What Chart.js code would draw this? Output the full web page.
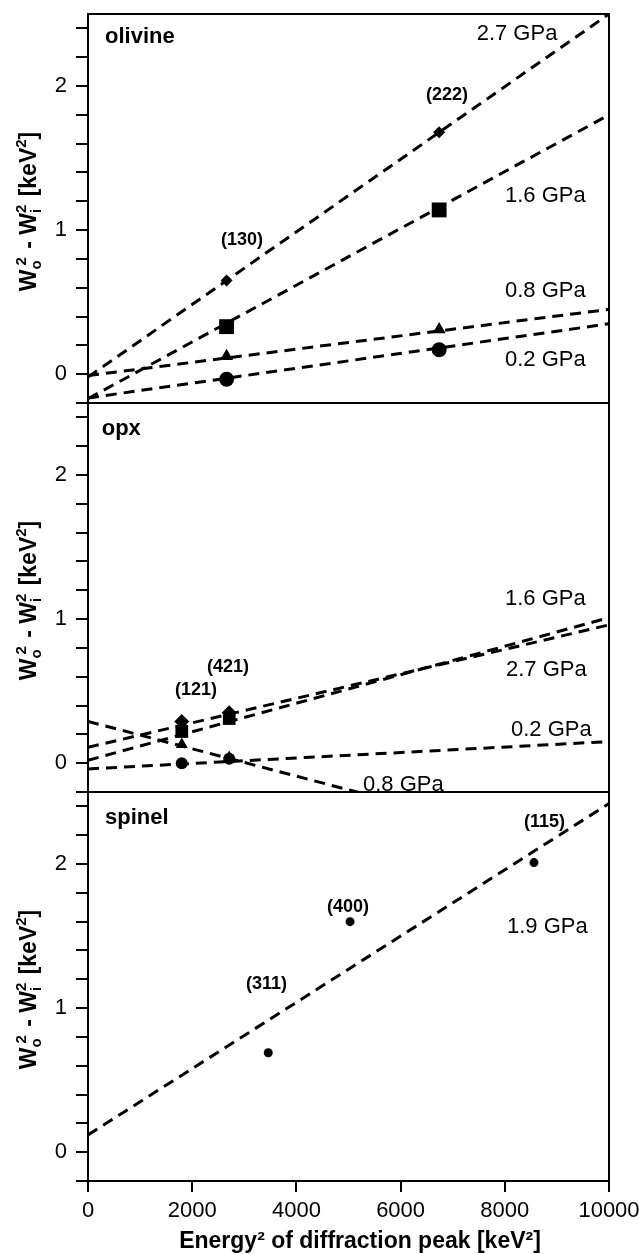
<!DOCTYPE html>
<html>
<head>
<meta charset="utf-8">
<script src="https://cdn.jsdelivr.net/npm/chart.js@4.4.1/dist/chart.umd.min.js"></script>
<style>
  body { margin: 0; background: #fff; }
  #wrap { position: relative; width: 639px; height: 1254px; background: #fff; overflow: hidden; }
  canvas { position: absolute; left: 0; }
</style>
</head>
<body>
<div id="wrap">
  <canvas id="c1" width="639" height="420" style="top:0px"></canvas>
  <canvas id="c2" width="639" height="420" style="top:389px"></canvas>
  <canvas id="c3" width="639" height="476" style="top:778px"></canvas>
</div>
<script>
const FAM = '"Liberation Sans", Arial, Helvetica, sans-serif';

// axes
const xTicks = [0, 2000, 4000, 6000, 8000, 10000];
const yTicks = [-0.2, 0, 0.2, 0.4, 0.6, 0.8, 1, 1.2, 1.4, 1.6, 1.8, 2, 2.2, 2.4];
const fitX = [0, 10000];
const pressures = ['2.7 GPa', '1.6 GPa', '0.8 GPa', '0.2 GPa'];

// olivine
const olX = [2660, 6740];
const ol27 = [0.65, 1.68];
const ol16 = [0.33, 1.14];
const ol08 = [0.125, 0.31];
const ol02 = [-0.035, 0.17];
const olFit27 = [-0.02, 2.5];
const olFit16 = [-0.17, 1.8];
const olFit08 = [-0.01, 0.45];
const olFit02 = [-0.165, 0.35];
const olPeaks = ['(130)', '(222)'];

// opx
const opxX = [1800, 2710];
const opx27 = [0.29, 0.35];
const opx16 = [0.22, 0.31];
const opx08 = [0.13, 0.04];
const opx02 = [0.0, 0.03];
const opxFit27 = [0.11, 0.96];
const opxFit16 = [0.02, 1.01];
const opxFit08 = [0.29, -0.66];
const opxFit02 = [-0.04, 0.15];
const opxPeaks = ['(121)', '(421)'];

// spinel
const spX = [3460, 5030, 8560];
const spY = [0.69, 1.6, 2.01];
const spFit = [0.12, 2.42];
const spPeaks = ['(311)', '(400)', '(115)'];
const spPressure = '1.9 GPa';

function pts(xs, ys) {
  return xs.map((x, i) => ({ x: x, y: ys[i] }));
}

function fitLine(ys) {
  return {
    data: pts(fitX, ys), showLine: true, borderColor: '#000', borderWidth: 3,
    borderDash: [11, 7], pointRadius: 0, fill: false
  };
}

function marks(xs, ys, style, r) {
  return {
    data: pts(xs, ys), showLine: false, pointStyle: style, pointRadius: r,
    pointBackgroundColor: '#000', pointBorderColor: '#000', pointBorderWidth: 0
  };
}

// y title with sub/superscripts
function drawYTitle(ctx, cx, cy) {
  const big = 'bold 23px ' + FAM, small = 'bold 15px ' + FAM;
  const parts = [
    { t: 'W', f: big, dy: 0 },
    { t: 'o', f: small, dy: 5, stack: 4 },
    { t: '2', f: small, dy: -10 },
    { t: ' - W', f: big, dy: 0 },
    { t: 'i', f: small, dy: 5, stack: 0 },
    { t: '2', f: small, dy: -10 },
    { t: ' [keV', f: big, dy: 0 },
    { t: '2', f: small, dy: -10 },
    { t: ']', f: big, dy: 0 }
  ];
  ctx.save();
  let total = 0;
  const xs = [];
  for (let i = 0; i < parts.length; i++) {
    ctx.font = parts[i].f;
    const w = ctx.measureText(parts[i].t).width;
    xs.push(total);
    if (parts[i].stack !== undefined) {
      const sx = total + parts[i].stack;
      ctx.font = parts[i + 1].f;
      const w2 = ctx.measureText(parts[i + 1].t).width;
      xs.push(sx);
      total = Math.max(total + w, sx + w2) + 2;
      i++;
    } else {
      total += w;
    }
  }
  ctx.translate(cx, cy);
  ctx.rotate(-Math.PI / 2);
  ctx.fillStyle = '#000';
  ctx.textBaseline = 'alphabetic';
  ctx.textAlign = 'left';
  parts.forEach((p, i) => {
    ctx.font = p.f;
    ctx.fillText(p.t, xs[i] - total / 2, 8 + p.dy);
  });
  ctx.restore();
}

function makePanel(id, opts) {
  const panelPlugin = {
    id: 'panel_' + id,
    afterDraw(chart) {
      const ctx = chart.ctx;
      const a = chart.chartArea;
      const xs = chart.scales.x, ys = chart.scales.y;
      ctx.save();
      ctx.strokeStyle = '#000';
      ctx.lineWidth = 2;
      ctx.strokeRect(a.left, a.top, a.right - a.left, a.bottom - a.top);
      ctx.fillStyle = '#000';
      ctx.textBaseline = 'middle';
      ctx.textAlign = 'left';
      opts.notes.forEach(n => {
        ctx.font = n.font + ' ' + FAM;
        ctx.fillText(n.t, xs.getPixelForValue(n.x), ys.getPixelForValue(n.y));
      });
      ctx.restore();
      drawYTitle(ctx, 28, (a.top + a.bottom) / 2 + 3);
      if (opts.xTitle) {
        ctx.save();
        ctx.font = 'bold 23px ' + FAM;
        ctx.fillStyle = '#000';
        ctx.textAlign = 'center';
        ctx.textBaseline = 'middle';
        ctx.fillText(opts.xTitle, 360, chart.height - 12);
        ctx.restore();
      }
    }
  };

  return new Chart(document.getElementById(id), {
    type: 'scatter',
    data: { datasets: opts.datasets },
    options: {
      responsive: false,
      animation: false,
      devicePixelRatio: 1,
      layout: { padding: { top: opts.padTop, bottom: opts.padBottom, left: 0, right: 30 } },
      plugins: { legend: { display: false }, tooltip: { enabled: false } },
      scales: {
        x: {
          type: 'linear', min: 0, max: 10000, display: opts.showX,
          afterBuildTicks: s => { s.ticks = xTicks.map(v => ({ value: v })); },
          afterFit: s => {
            s.height = opts.showX ? 73 : 0;
            s.paddingLeft = 0; s.paddingRight = 0;
          },
          grid: { drawOnChartArea: false, drawTicks: true, tickLength: 11, color: '#000', lineWidth: 2 },
          border: { display: false },
          ticks: {
            color: '#000', font: { family: FAM, size: 22 }, padding: 6, maxRotation: 0, autoSkip: false,
            callback: v => String(v)
          }
        },
        y: {
          type: 'linear', min: -0.2, max: 2.5,
          afterBuildTicks: s => { s.ticks = yTicks.map(v => ({ value: v })); },
          afterFit: s => { s.width = 88; s.paddingTop = 0; s.paddingBottom = 0; },
          grid: { drawOnChartArea: false, drawTicks: true, tickLength: 12, color: '#000', lineWidth: 2 },
          border: { display: false },
          ticks: {
            color: '#000', font: { family: FAM, size: 22 }, padding: 9, autoSkip: false,
            callback: v => Math.abs(v - Math.round(v)) < 1e-6 ? String(Math.round(v)) : ''
          }
        }
      }
    },
    plugins: [panelPlugin]
  });
}

// olivine panel
makePanel('c1', {
  padTop: 14, padBottom: 17, showX: false,
  datasets: [
    marks(olX, ol27, 'rectRot', 6),
    marks(olX, ol16, 'rect', 10.5),
    marks(olX, ol08, 'triangle', 7.5),
    marks(olX, ol02, 'circle', 7.5),
    fitLine(olFit27), fitLine(olFit16), fitLine(olFit08), fitLine(olFit02)
  ],
  notes: [
    { t: 'olivine', x: 326, y: 2.34, font: 'bold 22px' },
    { t: olPeaks[0], x: 2553, y: 0.93, font: 'bold 18px' },
    { t: olPeaks[1], x: 6488, y: 1.94, font: 'bold 18px' },
    { t: pressures[0], x: 7460, y: 2.36, font: '22px' },
    { t: pressures[1], x: 8004, y: 1.24, font: '22px' },
    { t: pressures[2], x: 8004, y: 0.58, font: '22px' },
    { t: pressures[3], x: 8004, y: 0.10, font: '22px' }
  ]
});

// opx panel
makePanel('c2', {
  padTop: 14, padBottom: 17, showX: false,
  datasets: [
    marks(opxX, opx27, 'rectRot', 7.5),
    marks(opxX, opx16, 'rect', 9),
    marks(opxX, opx08, 'triangle', 7),
    marks(opxX, opx02, 'circle', 6),
    fitLine(opxFit27), fitLine(opxFit16), fitLine(opxFit08), fitLine(opxFit02)
  ],
  notes: [
    { t: 'opx', x: 263, y: 2.32, font: 'bold 22px' },
    { t: opxPeaks[0], x: 1670, y: 0.51, font: 'bold 18px' },
    { t: opxPeaks[1], x: 2284, y: 0.67, font: 'bold 18px' },
    { t: pressures[1], x: 8004, y: 1.14, font: '22px' },
    { t: pressures[0], x: 8023, y: 0.65, font: '22px' },
    { t: pressures[3], x: 8119, y: 0.23, font: '22px' },
    { t: pressures[2], x: 5278, y: -0.15, font: '22px' }
  ]
});

// spinel panel
makePanel('c3', {
  padTop: 14, padBottom: 0, showX: true,
  xTitle: 'Energy\u00b2 of diffraction peak [keV\u00b2]',
  datasets: [
    marks(spX, spY, 'circle', 4.5),
    fitLine(spFit)
  ],
  notes: [
    { t: 'spinel', x: 326, y: 2.32, font: 'bold 22px' },
    { t: spPeaks[0], x: 3033, y: 1.17, font: 'bold 18px' },
    { t: spPeaks[1], x: 4587, y: 1.70, font: 'bold 18px' },
    { t: spPeaks[2], x: 8369, y: 2.29, font: 'bold 18px' },
    { t: spPressure, x: 8042, y: 1.56, font: '22px' }
  ]
});
</script>
</body>
</html>
